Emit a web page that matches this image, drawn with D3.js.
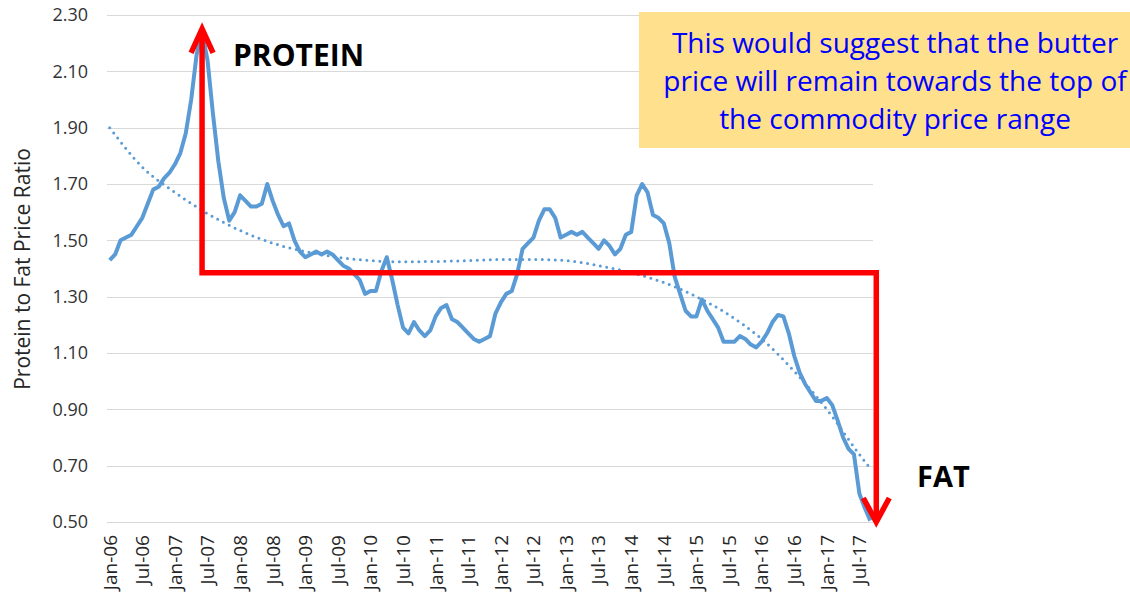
<!DOCTYPE html>
<html>
<head>
<meta charset="utf-8">
<script src="https://cdn.jsdelivr.net/npm/d3@7"></script>
<style>
    body { margin: 0; background: #fff; }
    svg text { font-family: "Open Sans", sans-serif; }
</style>
</head>
<body>
<div id="chart"></div>
<script>
// monthly protein to fat price ratio, Jan-06 .. Sep-17
var ratio = [
    1.43, 1.45, 1.50, 1.51, 1.52, 1.55, 1.58, 1.63, 1.68, 1.69, 1.72, 1.74,
    1.77, 1.81, 1.88, 2.00, 2.16, 2.24, 2.14, 1.95, 1.78, 1.65, 1.57, 1.60,
    1.66, 1.64, 1.62, 1.62, 1.63, 1.70, 1.64, 1.59, 1.55, 1.56, 1.50, 1.46,
    1.44, 1.45, 1.46, 1.45, 1.46, 1.45, 1.43, 1.41, 1.40, 1.38, 1.36, 1.31,
    1.32, 1.32, 1.39, 1.44, 1.36, 1.27, 1.19, 1.17, 1.21, 1.18, 1.16, 1.18,
    1.23, 1.26, 1.27, 1.22, 1.21, 1.19, 1.17, 1.15, 1.14, 1.15, 1.16, 1.24,
    1.28, 1.31, 1.32, 1.38, 1.47, 1.49, 1.51, 1.57, 1.61, 1.61, 1.58, 1.51,
    1.52, 1.53, 1.52, 1.53, 1.51, 1.49, 1.47, 1.50, 1.48, 1.45, 1.47, 1.52,
    1.53, 1.66, 1.70, 1.67, 1.59, 1.58, 1.56, 1.49, 1.37, 1.31, 1.25, 1.23,
    1.23, 1.29, 1.25, 1.22, 1.19, 1.14, 1.14, 1.14, 1.16, 1.15, 1.13, 1.12,
    1.14, 1.17, 1.21, 1.235, 1.23, 1.17, 1.09, 1.03, 0.99, 0.96, 0.93, 0.93,
    0.94, 0.915, 0.86, 0.80, 0.76, 0.74, 0.60, 0.55, 0.505
];

// polynomial trend (month index -> value)
var trendIndex = [0, 6, 12, 18, 24, 30, 36, 42, 48, 54, 60, 66, 72, 78, 84, 90, 96, 102, 108, 114, 120, 126, 132, 138, 140];
var trendValue = [1.90, 1.76, 1.67, 1.595, 1.535, 1.49, 1.46, 1.44, 1.428, 1.424, 1.425, 1.428, 1.432, 1.432, 1.428, 1.41, 1.385, 1.35, 1.30, 1.235, 1.15, 1.035, 0.90, 0.74, 0.69];

var yTicks = [0.50, 0.70, 0.90, 1.10, 1.30, 1.50, 1.70, 1.90, 2.10, 2.30];

// annotation levels
var peakIndex = 17;
var peakValue = 2.24;
var crossLevel = 1.385;
var bottomValue = 0.50;

var noteLines = [
    'This would suggest that the butter',
    'price will remain towards the top of',
    'the commodity price range'
];

(function () {
    var months = d3.timeMonths(new Date(2006, 0, 1), new Date(2017, 9, 1));
    var fmt = d3.timeFormat('%b-%y');

    var width = 1130, height = 597;
    var plotLeft = 107, plotRight = 873, plotTop = 15, plotBottom = 522;

    var svg = d3.select('#chart')
        .append('svg')
        .attr('width', width)
        .attr('height', height);

    var x = d3.scalePoint()
        .domain(d3.range(months.length))
        .range([plotLeft, plotRight])
        .padding(0.5);

    var y = d3.scaleLinear()
        .domain([0.5, 2.3])
        .range([plotBottom, plotTop]);

    // grid
    svg.append('g').selectAll('line')
        .data(yTicks)
        .enter()
        .append('line')
        .attr('x1', plotLeft)
        .attr('x2', plotRight)
        .attr('y1', function (d) { return Math.round(y(d)) + 0.5; })
        .attr('y2', function (d) { return Math.round(y(d)) + 0.5; })
        .attr('stroke', '#d9d9d9')
        .attr('stroke-width', 1);

    // y labels
    svg.append('g').selectAll('text')
        .data(yTicks)
        .enter()
        .append('text')
        .attr('x', 88)
        .attr('y', function (d) { return y(d); })
        .attr('dy', '0.36em')
        .attr('text-anchor', 'end')
        .attr('font-size', 18)
        .attr('fill', '#333')
        .text(function (d) { return d.toFixed(2); });

    // x labels, every six months
    var tickIdx = d3.range(0, months.length, 6);
    svg.append('g').selectAll('text')
        .data(tickIdx)
        .enter()
        .append('text')
        .attr('transform', function (i) { return 'translate(' + x(i) + ',' + 535 + ') rotate(-90)'; })
        .attr('dy', '0.36em')
        .attr('text-anchor', 'end')
        .attr('font-size', 19)
        .attr('fill', '#262626')
        .text(function (i) { return fmt(months[i]); });

    // axis title
    svg.append('text')
        .attr('transform', 'translate(22,269) rotate(-90)')
        .attr('dy', '0.36em')
        .attr('text-anchor', 'middle')
        .attr('font-size', 21)
        .attr('fill', '#262626')
        .text('Protein to Fat Price Ratio');

    // trend
    var trendLine = d3.line()
        .x(function (d, i) { return x(trendIndex[i]); })
        .y(function (d) { return y(d); })
        .curve(d3.curveMonotoneX);

    svg.append('path')
        .datum(trendValue)
        .attr('d', trendLine)
        .attr('fill', 'none')
        .attr('stroke', '#5b9bd5')
        .attr('stroke-width', 3)
        .attr('stroke-linecap', 'round')
        .attr('stroke-dasharray', '0 6.5');

    // ratio line
    var line = d3.line()
        .x(function (d, i) { return x(i); })
        .y(function (d) { return y(d); });

    svg.append('path')
        .datum(ratio)
        .attr('d', line)
        .attr('fill', 'none')
        .attr('stroke', '#5b9bd5')
        .attr('stroke-width', 4)
        .attr('stroke-linejoin', 'round');

    // red arrows
    var xPeak = x(peakIndex);
    var xEnd = x(months.length - 1) + 6;
    var yTop = y(peakValue) - 3;
    var yLevel = y(crossLevel);
    var yBottom = y(bottomValue);
    var red = '#ff0000';

    svg.append('path')
        .attr('d', 'M' + xPeak + ',' + yTop + 'V' + yLevel + 'H' + xEnd + 'V' + yBottom)
        .attr('fill', 'none')
        .attr('stroke', red)
        .attr('stroke-width', 5.5)
        .attr('stroke-linejoin', 'miter');

    svg.append('path')
        .attr('d', 'M' + (xPeak - 11) + ',' + (yTop + 24) + 'L' + xPeak + ',' + yTop + 'L' + (xPeak + 11) + ',' + (yTop + 24))
        .attr('fill', 'none')
        .attr('stroke', red)
        .attr('stroke-width', 5.5);

    svg.append('path')
        .attr('d', 'M' + (xEnd - 13) + ',' + (yBottom - 24) + 'L' + xEnd + ',' + yBottom + 'L' + (xEnd + 13) + ',' + (yBottom - 24))
        .attr('fill', 'none')
        .attr('stroke', red)
        .attr('stroke-width', 5.5);

    svg.append('text')
        .attr('x', 233)
        .attr('y', 66)
        .attr('font-size', 30)
        .attr('font-weight', 'bold')
        .attr('fill', '#000')
        .text('PROTEIN');

    svg.append('text')
        .attr('x', 917)
        .attr('y', 487)
        .attr('font-size', 29)
        .attr('font-weight', 'bold')
        .attr('fill', '#000')
        .text('FAT');

    // note box
    svg.append('rect')
        .attr('x', 639)
        .attr('y', 12)
        .attr('width', width - 639)
        .attr('height', 136)
        .attr('fill', '#ffe08c');

    svg.append('g').selectAll('text')
        .data(noteLines)
        .enter()
        .append('text')
        .attr('x', 895)
        .attr('y', function (d, i) { return 53 + i * 38; })
        .attr('text-anchor', 'middle')
        .attr('font-size', 28)
        .attr('fill', '#0000ff')
        .text(function (d) { return d; });
})();
</script>
</body>
</html>
